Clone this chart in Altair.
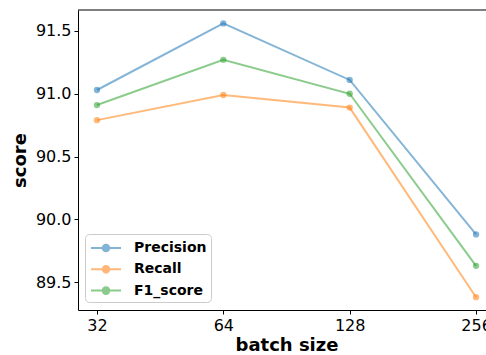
import altair as alt
import pandas as pd

batch_sizes = ["32", "64", "128", "256"]
series_names = ["Precision", "Recall", "F1_score"]
precision = [91.03, 91.56, 91.11, 89.88]
recall = [90.79, 90.99, 90.89, 89.38]
f1_score = [90.91, 91.27, 91.00, 89.63]
y_ticks = [89.5, 90.0, 90.5, 91.0, 91.5]
colors = ["#1f77b4", "#ff7f0e", "#2ca02c"]

rows = []
for name, vals in zip(series_names, [precision, recall, f1_score]):
    for b, v in zip(batch_sizes, vals):
        rows.append({"batch": b, "score": v, "metric": name})
df = pd.DataFrame(rows)

FONT = "DejaVu Sans"
legend_path = "M-1.667,0L1.667,0M0.37,0A0.37,0.37,0,1,1,-0.37,0A0.37,0.37,0,1,1,0.37,0Z"

x_enc = alt.X("batch:O", sort=batch_sizes,
              scale=alt.Scale(type="point", padding=0.15, range=[0, 417]),
              axis=alt.Axis(title="batch size", labelAngle=0, domain=True,
                            domainColor="black", domainWidth=1,
                            grid=False, tickSize=4, tickColor="black",
                            labelPadding=3, labelFontSize=16, labelColor="black",
                            titleFontSize=18, titleFontWeight="bold",
                            titleColor="black", titlePadding=3, labelFont=FONT,
                            titleFont=FONT, titleX=208.5))
y_enc = alt.Y("score:Q",
              scale=alt.Scale(domain=[89.278, 91.667], nice=False, zero=False),
              axis=alt.Axis(title="score", values=y_ticks, format=".1f",
                            domain=True, domainColor="black", domainWidth=1,
                            grid=False, tickSize=4,
                            tickColor="black", labelPadding=3, labelFontSize=16,
                            labelColor="black", titleFontSize=18,
                            titleFontWeight="bold", titleColor="black",
                            titlePadding=6, labelFont=FONT, titleFont=FONT))
color_enc = alt.Color("metric:N",
                      scale=alt.Scale(domain=series_names, range=colors),
                      legend=alt.Legend(title=None, orient="none",
                                        legendX=7, legendY=224,
                                        symbolType=legend_path, symbolSize=324,
                                        symbolStrokeWidth=2, symbolOpacity=0.55,
                                        symbolOffset=7, labelOffset=18,
                                        labelFontSize=14, labelFontWeight="bold",
                                        labelFont=FONT, labelColor="black",
                                        rowPadding=3.3, padding=4,
                                        strokeColor="#cccccc", fillColor="white",
                                        cornerRadius=4))

base = alt.Chart(df)
lines = base.mark_line(strokeWidth=2, opacity=0.55).encode(x=x_enc, y=y_enc, color=color_enc)
points = base.mark_point(filled=True, size=40, opacity=0.55).encode(x=x_enc, y=y_enc, color=color_enc)
top_frame = alt.Chart(pd.DataFrame({"f": [0]})).mark_rule(color="black", strokeWidth=1).encode(
    y=alt.value(0), x=alt.value(0), x2=alt.value(420))

chart = alt.layer(lines, points, top_frame).properties(
    width=408, height=300,
    autosize=alt.AutoSizeParams(type="none"),
    padding={"left": 78, "top": 10, "right": 0, "bottom": 45},
).configure(background="white").configure_view(stroke=None)

chart.save("out.html", embed_options={"renderer": "svg", "actions": False})
